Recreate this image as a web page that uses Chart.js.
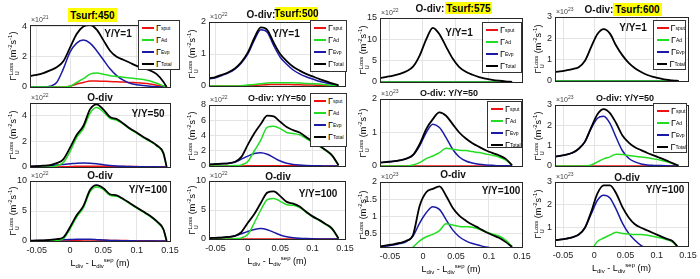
<!DOCTYPE html>
<html>
<head>
<meta charset="utf-8">
<script src="https://cdn.jsdelivr.net/npm/chart.js@4"></script>
<style>
body { margin:0; background:#fff; }
#fig { position:relative; width:700px; height:279px; overflow:hidden; background:#fff; font-family:"Liberation Sans", Arial, sans-serif; }
#fig canvas { position:absolute; }
.t { position:absolute; transform:translate(-50%,-50%); white-space:nowrap; color:#111; z-index:5; font-weight:bold; }
.tag { position:absolute; background:#ffff00; font-weight:bold; font-size:10px; display:flex; align-items:center; justify-content:center; z-index:5; }
.exp { position:absolute; font-size:7px; color:#444; z-index:5; }
.exp sup { font-size:5px; }
.leg { position:absolute; background:#fff; border:1px solid #333; z-index:6; font-size:9px; box-sizing:border-box; padding-top:1px; overflow:hidden; }
.leg div { height:12px; display:flex; align-items:center; }
.leg span.ln { display:inline-block; width:12px; height:2px; margin:0 2px 0 3px; }
.leg sub { font-size:5px; }
.yt { position:absolute; transform:translate(-50%,-50%) rotate(-90deg); font-size:9px; white-space:nowrap; z-index:5; }
.yt sup { font-size:6px; }
.ss { display:inline-flex; flex-direction:column; font-size:6px; line-height:6px; vertical-align:middle; }
.xt { position:absolute; transform:translate(-50%,-50%); font-size:9px; white-space:nowrap; z-index:5; }
.xt sub, .xt sup { font-size:6px; }
</style>
</head>
<body>
<div id="fig"></div>
<script>
// x grids (m)
var xCol1 = [-0.06,-0.05,-0.04,-0.03,-0.02,-0.01,0,0.01,0.02,0.03,0.04,0.05,0.06,0.07,0.08,0.09,0.1,0.11,0.12,0.13,0.14,0.145];
var xCol2 = [-0.06,-0.05,-0.04,-0.03,-0.02,-0.01,0,0.01,0.02,0.03,0.04,0.05,0.06,0.07,0.08,0.09,0.1,0.11,0.12,0.13,0.14];
var xCol34 = [-0.065,-0.055,-0.045,-0.035,-0.025,-0.015,-0.005,0.005,0.015,0.025,0.035,0.045,0.055,0.065,0.075,0.085,0.095,0.105,0.115,0.125,0.135];
var xTicks = [-0.05, 0, 0.05, 0.1, 0.15];
var zeros21 = [0,0,0,0,0,0,0,0,0,0,0,0,0,0,0,0,0,0,0,0,0];

// row 1 : Y/Y=1
var tot11 = [0.73,0.8,0.92,1.1,1.3,1.7,2.6,3.5,4.0,4.1,3.8,3.1,2.4,2.0,1.8,1.6,1.4,1.25,1.1,0.85,0.35,0];
var evp11 = [0,0,0,0.05,0.3,1.2,2.3,2.9,3.1,2.9,2.4,1.8,1.2,0.75,0.45,0.25,0.15,0.1,0.05,0.02,0,0];
var ad11 = [0,0,0,0,0,0,0.05,0.3,0.55,0.85,0.93,0.85,0.75,0.7,0.65,0.6,0.55,0.5,0.4,0.25,0.08,0];
var sput11 = [0,0,0,0,0,0,0.05,0.2,0.3,0.4,0.4,0.38,0.36,0.35,0.33,0.3,0.28,0.25,0.2,0.12,0.04,0];

var tot12 = [0.24,0.28,0.35,0.43,0.55,0.75,1.05,1.5,1.83,1.75,1.35,1.0,0.78,0.6,0.48,0.38,0.3,0.22,0.15,0.08,0.02];
var evp12 = [0.22,0.26,0.33,0.41,0.53,0.72,1.0,1.43,1.76,1.68,1.26,0.9,0.68,0.5,0.38,0.29,0.22,0.15,0.1,0.05,0.01];
var ad12 = [0,0,0,0,0,0.01,0.03,0.05,0.07,0.09,0.1,0.1,0.1,0.1,0.09,0.08,0.07,0.06,0.04,0.02,0.01];
var sput12 = [0,0,0,0,0,0,0.01,0.02,0.03,0.04,0.05,0.05,0.05,0.04,0.04,0.03,0.03,0.02,0.02,0.01,0];

var tot13 = [0.9,1.2,1.5,1.9,2.5,3.6,6.2,10.0,12.7,11.2,8.3,5.5,3.5,2.4,1.7,1.15,0.8,0.5,0.3,0.15,0.05];
var tot14 = [0.42,0.45,0.5,0.56,0.65,0.95,1.6,2.2,2.43,2.22,1.65,1.2,0.85,0.6,0.42,0.28,0.19,0.12,0.06,0.03,0.01];

// row 2 : Y/Y=50
var tot21 = [0.05,0.07,0.1,0.15,0.3,0.6,1.5,2.5,3.2,4.5,4.9,4.5,3.9,3.75,3.4,3.0,2.7,2.35,2.05,1.7,1.1,0];
var ad21 = [0,0,0,0,0.1,0.35,1.2,2.3,3.0,4.2,4.65,4.3,3.8,3.65,3.35,2.95,2.65,2.3,2.0,1.65,1.05,0];
var evp21 = [0.05,0.06,0.08,0.1,0.15,0.2,0.25,0.3,0.32,0.3,0.25,0.18,0.12,0.08,0.05,0.03,0.02,0.01,0.01,0.01,0,0];
var sput21 = [0,0,0,0,0,0.01,0.03,0.05,0.06,0.06,0.06,0.05,0.05,0.04,0.04,0.03,0.03,0.02,0.02,0.01,0.01,0];

var tot22 = [0.2,0.25,0.3,0.35,0.55,1.2,2.8,4.3,5.5,6.6,6.5,5.8,5.1,4.7,4.4,3.8,3.2,2.7,2.1,1.4,0.1];
var ad22 = [0,0,0,0,0.05,0.15,0.6,2.0,3.4,5.1,5.2,4.9,4.4,4.25,4.1,3.6,3.1,2.6,2.05,1.35,0.1];
var evp22 = [0.2,0.25,0.3,0.35,0.5,0.9,1.3,1.65,1.75,1.55,1.1,0.65,0.35,0.2,0.12,0.07,0.04,0.02,0.01,0,0];
var sput22 = [0,0,0,0,0,0.01,0.02,0.03,0.04,0.04,0.04,0.04,0.03,0.03,0.03,0.02,0.02,0.02,0.01,0.01,0];

var tot23 = [0.1,0.12,0.14,0.17,0.22,0.33,0.65,1.1,1.4,1.6,1.5,1.25,1.0,0.82,0.68,0.57,0.47,0.39,0.32,0.22,0.02];
var evp23 = [0.1,0.12,0.14,0.17,0.22,0.32,0.6,1.0,1.25,1.15,0.85,0.5,0.27,0.15,0.09,0.05,0.03,0.02,0.01,0.005,0];
var ad23 = [0,0,0,0,0,0.03,0.1,0.22,0.3,0.4,0.53,0.5,0.47,0.46,0.43,0.4,0.36,0.32,0.27,0.18,0.02];

var tot24 = [0.45,0.5,0.56,0.65,0.85,1.2,1.9,2.55,2.8,2.6,2.1,1.5,1.15,0.92,0.78,0.64,0.52,0.4,0.28,0.14,0.02];
var evp24 = [0.45,0.5,0.56,0.65,0.85,1.2,1.85,2.35,2.45,2.1,1.4,0.75,0.38,0.2,0.1,0.05,0.03,0.02,0.01,0,0];
var ad24 = [0,0,0,0,0,0,0.05,0.2,0.35,0.45,0.58,0.56,0.52,0.48,0.44,0.4,0.35,0.3,0.22,0.12,0.02];

// row 3 : Y/Y=100
var tot31 = [0.05,0.08,0.12,0.2,0.3,0.6,2.3,4.3,5.8,8.5,9.3,8.8,7.8,7.6,7.0,6.3,5.6,4.9,4.2,3.3,2.0,0];
var ad31 = [0,0,0,0,0.1,0.4,2.0,4.0,5.5,8.2,9.0,8.6,7.6,7.45,6.9,6.2,5.5,4.8,4.1,3.2,1.9,0];
var evp31 = [0.05,0.06,0.08,0.1,0.15,0.2,0.25,0.3,0.3,0.28,0.22,0.15,0.1,0.07,0.05,0.03,0.02,0.01,0.01,0.01,0,0];
var sput31 = [0,0,0,0,0,0.02,0.05,0.1,0.15,0.15,0.15,0.12,0.1,0.08,0.07,0.06,0.05,0.04,0.03,0.02,0.01,0];

var tot32 = [0.15,0.2,0.25,0.35,0.55,1.2,2.8,4.3,6.2,8.0,8.2,7.4,6.4,6.1,5.6,4.7,3.9,3.3,2.6,1.8,0.1];
var ad32 = [0,0,0,0,0.05,0.2,0.8,2.8,5.0,6.8,7.0,6.5,5.9,5.8,5.4,4.6,3.8,3.2,2.5,1.7,0.1];
var evp32 = [0.15,0.2,0.25,0.35,0.5,0.9,1.3,1.65,1.8,1.6,1.15,0.7,0.4,0.22,0.12,0.07,0.04,0.02,0.01,0,0];
var sput32 = [0,0,0,0,0,0,0.01,0.02,0.02,0.02,0.02,0.02,0.02,0.02,0.01,0.01,0.01,0.01,0.01,0,0];

var tot33 = [0.12,0.15,0.18,0.22,0.28,0.45,1.3,1.7,1.8,1.87,1.6,1.25,1.02,0.87,0.75,0.65,0.54,0.45,0.37,0.25,0.1];
var evp33 = [0.1,0.13,0.16,0.2,0.26,0.42,0.8,1.1,1.28,1.2,0.9,0.6,0.4,0.28,0.2,0.15,0.1,0.07,0.04,0.02,0.01];
var ad33 = [0,0,0,0,0,0.1,0.28,0.4,0.47,0.58,0.78,0.74,0.7,0.69,0.68,0.62,0.55,0.48,0.42,0.3,0.12];

var tot34 = [0.45,0.48,0.52,0.58,0.7,1.0,1.7,2.5,2.85,2.85,2.5,1.9,1.45,1.15,1.0,0.88,0.76,0.64,0.52,0.42,0.12];
var evp34 = [0.45,0.48,0.52,0.58,0.7,1.0,1.6,2.2,2.42,2.3,1.8,1.2,0.75,0.45,0.22,0.1,0.05,0.03,0.02,0.01,0];
var ad34 = [0,0,0,0,0,0,0.05,0.4,0.55,0.68,0.8,0.75,0.72,0.7,0.7,0.67,0.62,0.56,0.48,0.38,0.1];

var names = ['sput', 'Ad', 'Evp', 'Total'];
var colors = ['#ee1111', '#22dd22', '#1a1aa6', '#000000'];

var fig = document.getElementById('fig');
var FONT = '"Liberation Sans", Arial, sans-serif';

// box round the plot area
var boxPlugin = {
    id: 'box',
    afterDraw: function(chart) {
        var a = chart.chartArea, c = chart.ctx;
        c.save();
        c.strokeStyle = '#262626';
        c.lineWidth = 1;
        c.strokeRect(Math.round(a.left) + 0.5, Math.round(a.top) + 0.5, Math.round(a.right - a.left), Math.round(a.bottom - a.top));
        c.restore();
    }
};

function fmt(v) { return String(+v.toFixed(3)); }

function panel(p) {
    var PT = 8, PR = 14, YW = 22, XH = p.xlab ? 16 : 2;
    var w = p.r - p.l + YW + PR, h = p.b - p.t + PT + XH;
    var cv = document.createElement('canvas');
    cv.width = w; cv.height = h;
    cv.style.left = (p.l - YW) + 'px';
    cv.style.top = (p.t - PT) + 'px';
    cv.style.width = w + 'px'; cv.style.height = h + 'px';
    fig.appendChild(cv);

    var sets = [p.sput, p.ad, p.evp, p.tot].map(function(ys, k) {
        return {
            label: names[k],
            data: p.xs.map(function(x, i) { return {x: x, y: ys[i]}; }),
            borderColor: colors[k],
            borderWidth: k == 3 ? 1.8 : 1.5,
            pointRadius: 0,
            fill: false,
            cubicInterpolationMode: 'monotone',
            order: [3, 1, 2, 0][k]
        };
    });

    new Chart(cv, {
        type: 'line',
        data: { datasets: sets },
        options: {
            responsive: false,
            animation: false,
            layout: { padding: { top: PT, right: PR, left: 0, bottom: 0 } },
            plugins: { legend: { display: false }, tooltip: { enabled: false } },
            scales: {
                x: {
                    type: 'linear', min: p.xmin, max: 0.15,
                    afterBuildTicks: function(s) { s.ticks = xTicks.map(function(v) { return {value: v}; }); },
                    afterFit: function(s) { s.height = XH; s.paddingLeft = 0; s.paddingRight = 0; },
                    grid: { color: '#e4e4e4', drawTicks: false },
                    border: { display: false },
                    ticks: { display: !!p.xlab, padding: 4, color: '#222', maxRotation: 0, autoSkip: false,
                             font: { family: FONT, size: 9 }, callback: fmt }
                },
                y: {
                    min: p.ymin, max: p.ymax,
                    afterBuildTicks: function(s) { s.ticks = p.yt.map(function(v) { return {value: v}; }); },
                    afterFit: function(s) { s.width = YW; s.paddingTop = 0; s.paddingBottom = 0; },
                    grid: { color: '#e4e4e4', drawTicks: false },
                    border: { display: false },
                    ticks: { padding: 3, color: '#222', font: { family: FONT, size: 9 }, callback: fmt }
                }
            }
        },
        plugins: [boxPlugin]
    });

    addHtml('<div class="exp" style="left:' + (p.l + 1) + 'px;top:' + (p.t - 11) + 'px">&times;10<sup>' + p.exp + '</sup></div>');
    addHtml('<div class="yt" style="left:' + (p.l - 17) + 'px;top:' + ((p.t + p.b) / 2) + 'px">&Gamma;<span class="ss"><span>Loss</span><span>U</span></span> (m<sup>-2</sup>s<sup>-1</sup>)</div>');
    if (p.xlab) {
        addHtml('<div class="xt" style="left:' + ((p.l + p.r) / 2) + 'px;top:' + (p.b + 22) + 'px">L<sub>div</sub> - L<sub>div</sub><sup>sep</sup> (m)</div>');
    }
}

function addHtml(s) { fig.insertAdjacentHTML('beforeend', s); }

function legend(x, y, w, h) {
    var s = '<div class="leg" style="left:' + x + 'px;top:' + y + 'px;width:' + w + 'px;height:' + h + 'px">';
    for (var k = 0; k < 4; k++) {
        s += '<div><span class="ln" style="background:' + colors[k] + '"></span>&Gamma;<sub>' + names[k] + '</sub></div>';
    }
    addHtml(s + '</div>');
}

function label(txt, x, y, size) {
    addHtml('<div class="t" style="left:' + x + 'px;top:' + y + 'px;font-size:' + (size || 10) + 'px">' + txt + '</div>');
}

function tag(txt, x, y, w, h) {
    addHtml('<div class="tag" style="left:' + x + 'px;top:' + y + 'px;width:' + w + 'px;height:' + h + 'px">' + txt + '</div>');
}

// row 1
panel({l: 30, r: 170, t: 25, b: 87, xs: xCol1, xmin: -0.06, ymin: 0, ymax: 4.1, yt: [0, 2, 4], exp: 21, tot: tot11, evp: evp11, ad: ad11, sput: sput11});
panel({l: 209, r: 345, t: 22, b: 86, xs: xCol2, xmin: -0.06, ymin: 0, ymax: 2, yt: [0, 1, 2], exp: 22, tot: tot12, evp: evp12, ad: ad12, sput: sput12});
panel({l: 380, r: 522, t: 18, b: 82, xs: xCol34, xmin: -0.065, ymin: 0, ymax: 15, yt: [0, 5, 10, 15], exp: 22, tot: tot13, evp: zeros21, ad: zeros21, sput: zeros21});
panel({l: 555, r: 688, t: 17, b: 81, xs: xCol34, xmin: -0.063, ymin: 0, ymax: 3, yt: [0, 1, 2, 3], exp: 23, tot: tot14, evp: zeros21, ad: zeros21, sput: zeros21});
// row 2
panel({l: 30, r: 170, t: 103, b: 167, xs: xCol1, xmin: -0.06, ymin: 0, ymax: 5, yt: [0, 2, 4], exp: 22, tot: tot21, evp: evp21, ad: ad21, sput: sput21});
panel({l: 209, r: 345, t: 105, b: 166, xs: xCol2, xmin: -0.06, ymin: 0, ymax: 8, yt: [0, 2, 4, 6, 8], exp: 22, tot: tot22, evp: evp22, ad: ad22, sput: sput22});
panel({l: 380, r: 522, t: 99, b: 166, xs: xCol34, xmin: -0.065, ymin: 0, ymax: 2, yt: [0, 1, 2], exp: 23, tot: tot23, evp: evp23, ad: ad23, sput: zeros21});
panel({l: 555, r: 688, t: 105, b: 166, xs: xCol34, xmin: -0.063, ymin: 0, ymax: 3, yt: [0, 1, 2, 3], exp: 23, tot: tot24, evp: evp24, ad: ad24, sput: zeros21});
// row 3
panel({l: 30, r: 170, t: 181, b: 241, xs: xCol1, xmin: -0.06, ymin: 0, ymax: 10, yt: [0, 5, 10], exp: 22, xlab: true, tot: tot31, evp: evp31, ad: ad31, sput: sput31});
panel({l: 209, r: 345, t: 181, b: 239, xs: xCol2, xmin: -0.06, ymin: 0, ymax: 10, yt: [0, 5, 10], exp: 22, xlab: true, tot: tot32, evp: evp32, ad: ad32, sput: sput32});
panel({l: 380, r: 522, t: 182, b: 247, xs: xCol34, xmin: -0.065, ymin: 0.1, ymax: 2, yt: [0.5, 1, 1.5, 2], exp: 23, xlab: true, tot: tot33, evp: evp33, ad: ad33, sput: zeros21});
panel({l: 555, r: 688, t: 182, b: 246, xs: xCol34, xmin: -0.063, ymin: 0.2, ymax: 3, yt: [1, 2, 3], exp: 23, xlab: true, tot: tot34, evp: evp34, ad: ad34, sput: zeros21});

// titles
tag('Tsurf:450', 68, 8, 49, 14);
label('O-div:', 261, 14);
tag('Tsurf:500', 275, 7, 43, 13);
label('O-div:', 430, 8);
tag('Tsurf:575', 445, 2, 47, 12);
label('O-div:', 599, 9);
tag('Tsurf:600', 613, 3, 49, 13);

label('O-div', 100, 97);
label('O-div: Y/Y=50', 277, 98, 9);
label('O-div: Y/Y=50', 449, 93, 9);
label('O-div: Y/Y=50', 625, 98, 9);
label('O-div', 100, 175);
label('O-div', 278, 176);
label('O-div', 453, 174);
label('O-div', 627, 177);

label('Y/Y=1', 118, 33);
label('Y/Y=1', 286, 33);
label('Y/Y=1', 459, 32);
label('Y/Y=1', 633, 27);
label('Y/Y=50', 148, 113);
label('Y/Y=100', 148, 189);
label('Y/Y=100', 318, 193);
label('Y/Y=100', 501, 190);
label('Y/Y=100', 665, 189);

legend(138, 20, 42, 50);
legend(310, 20, 37, 52);
legend(482, 22, 40, 51);
legend(653, 20, 33, 50);
legend(310, 93, 37, 54);
legend(487, 101, 35, 47);
legend(653, 103, 34, 50);
</script>
</body>
</html>
